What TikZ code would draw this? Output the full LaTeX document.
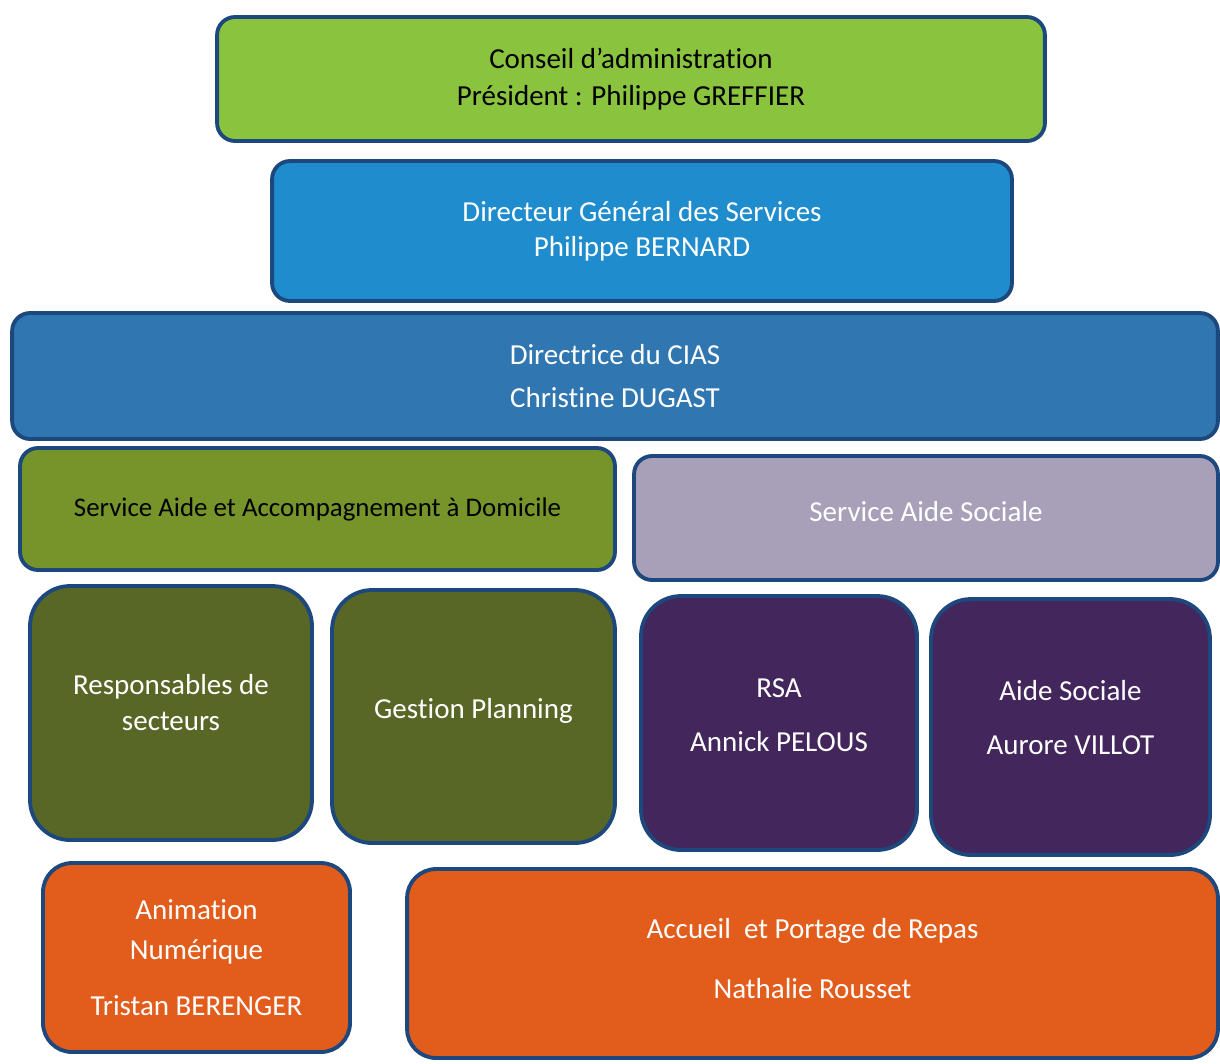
\documentclass[tikz,border=0pt]{standalone}
\usepackage{fontspec}
\setmainfont{Carlito}[RawFeature=-liga]
\definecolor{bordc}{RGB}{28,72,125}
\definecolor{lime}{RGB}{138,196,62}
\definecolor{dgsblue}{RGB}{30,140,205}
\definecolor{dirblue}{RGB}{48,118,176}
\definecolor{olive}{RGB}{118,148,42}
\definecolor{lav}{RGB}{168,160,184}
\definecolor{darkolive}{RGB}{88,102,38}
\definecolor{dpurple}{RGB}{66,38,92}
\definecolor{orng}{RGB}{226,92,28}
\begin{document}
\begin{tikzpicture}[x=0.02cm,y=-0.02cm,
  box/.style={draw=bordc, line width=2.2pt, align=center, inner sep=0pt, font=\fontsize{16.5}{22}\selectfont},
  wide/.style={box, rounded corners=0.36cm},
  square/.style={box, rounded corners=0.8cm},
  low/.style={box, rounded corners=0.58cm}]
\fill[white] (0,0) rectangle (1220,1063);
\useasboundingbox (0,0) rectangle (1220,1063);
\node[wide, fill=lime, minimum width=16.56cm, minimum height=2.48cm] (conseil) at (631,79)
  {Conseil d’administration\\[-0.5pt]Président : Philippe GREFFIER};
\node[wide, fill=dgsblue, text=white, minimum width=14.8cm, minimum height=2.8cm] (dgs) at (642,231)
  {Directeur Général des Services\\[-2pt]Philippe BERNARD};
\node[wide, fill=dirblue, text=white, minimum width=24.12cm, minimum height=2.52cm] (dir) at (615,376)
  {Directrice du CIAS\\[2pt]Christine DUGAST};
\node[wide, fill=olive, minimum width=11.9cm, minimum height=2.44cm, font=\fontsize{15.3}{20}\selectfont] (saad) at (317.5,509)
  {Service Aide et Accompagnement à Domicile};
\node[wide, fill=lav, text=white, minimum width=11.68cm, minimum height=2.48cm] (sas) at (926,518)
  {\raisebox{8pt}{Service Aide Sociale}};
\node[square, fill=darkolive, text=white, minimum width=5.64cm, minimum height=5.08cm] (resp) at (171,713)
  {\raisebox{12pt}{\shortstack{Responsables de\\[4pt]secteurs}}};
\node[square, fill=darkolive, text=white, minimum width=5.66cm, minimum height=5.06cm] (gest) at (473.5,716.5)
  {\raisebox{9pt}{Gestion Planning}};
\node[square, fill=dpurple, text=white, minimum width=5.52cm, minimum height=5.08cm] (rsa) at (779,723)
  {\raisebox{9pt}{\shortstack{RSA\\[16pt]Annick PELOUS}}};
\node[square, fill=dpurple, text=white, minimum width=5.58cm, minimum height=5.12cm] (aides) at (1070.5,727)
  {\raisebox{11pt}{\shortstack{Aide Sociale\\[17pt]Aurore VILLOT}}};
\node[low, fill=orng, text=white, minimum width=6.14cm, minimum height=3.78cm] (anim) at (196.5,957.5)
  {Animation\\[1pt]Numérique\\[10pt]Tristan BERENGER};
\node[low, fill=orng, text=white, minimum width=16.22cm, minimum height=3.78cm] (accueil) at (812.5,963.5)
  {\raisebox{6pt}{\shortstack{Accueil\ \ et Portage de Repas\\[17pt]Nathalie Rousset}}};
\end{tikzpicture}
\end{document}
